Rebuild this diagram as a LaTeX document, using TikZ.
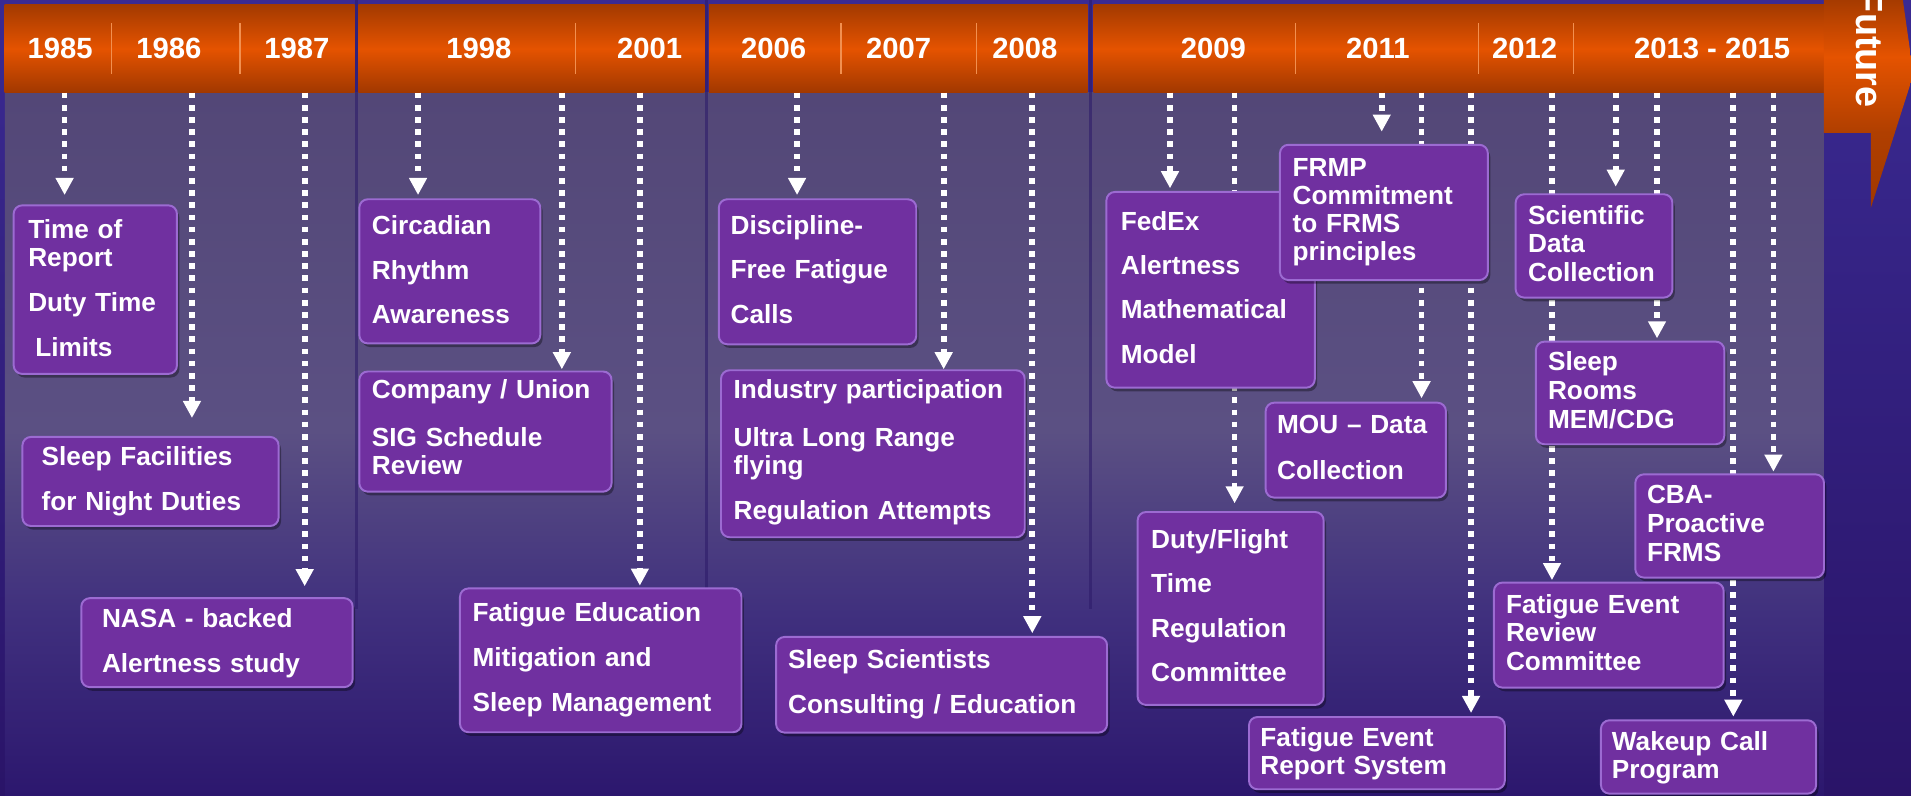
\documentclass[tikz,border=0pt]{standalone}
\usepackage{fontspec}
\setmainfont{Liberation Sans}
\usetikzlibrary{arrows.meta,shadows,calc}
\pgfdeclarelayer{bglayer}
\pgfdeclarelayer{connlayer}
\pgfsetlayers{bglayer,connlayer,main}
\definecolor{bgT}{HTML}{3A2A92}
\definecolor{bgB}{HTML}{2A1468}
\definecolor{orD}{HTML}{A33A00}
\definecolor{orB}{HTML}{E55300}
\definecolor{orD2}{HTML}{A13800}
\definecolor{sepC}{HTML}{F29050}
\definecolor{boxF}{HTML}{7030A0}
\definecolor{boxL}{HTML}{9C6BD2}
\definecolor{gapC}{HTML}{2E1C6A}
\definecolor{panA}{HTML}{534777}
\definecolor{panM}{HTML}{5B5083}
\definecolor{panC}{HTML}{40307E}
\definecolor{panD}{HTML}{2C176E}
\pgfdeclareverticalshading{futshade}{100bp}{color(0bp)=(orD2); color(25bp)=(orD2); color(43bp)=(orD!80!orB); color(61bp)=(orB); color(75bp)=(orD); color(100bp)=(orD)}
\pgfdeclareverticalshading{panelshade}{100bp}{color(0bp)=(panD); color(25bp)=(panD); color(38bp)=(panC); color(51bp)=(panM); color(75bp)=(panA); color(100bp)=(panA)}
\tikzset{
  panelbox/.style={draw=boxL, line width=1.6pt, fill=boxF, rounded corners=7pt,
    drop shadow={shadow xshift=2pt, shadow yshift=-3pt, opacity=0.35, fill=black}, inner sep=0pt},
  boxtext/.style={text=white, font=\bfseries\fontsize{21.5}{23}\selectfont, text width=260pt, align=left, inner sep=0pt},
  conn/.style={white, line width=4.7pt, dash pattern=on 4.7pt off 5.3pt, -{Triangle[width=14pt,length=14pt]}},
  yearlabel/.style={text=white, font=\bfseries\fontsize{24}{28}\selectfont, inner sep=0pt, anchor=base},
  sepline/.style={sepC, line width=1pt},
  bannerseg/.style={top color=orD, bottom color=orD2, middle color=orB},
}
\newcommand{\tlbox}[8]{%
  \node[panelbox, minimum width=#4pt, minimum height=#5pt, anchor=north west] (#1) at (#2,#3) {};
  \node[boxtext, anchor=base west] (#1t) at (#2+#6,#7) {#8};
}
\begin{document}
\begin{tikzpicture}[x=1pt,y=-1pt]
\useasboundingbox (0,0) rectangle (1568,653);
\clip (0,0) rectangle (1568,653);
\begin{pgfonlayer}{bglayer}
% background
\shade[top color=bgT, bottom color=bgB] (0,0) rectangle (1568,653);
\shade[shading=panelshade] (4,76) rectangle (1496.5,653);
\foreach \gx in {292.5,579.9,894.9} \draw[gapC, line width=2.5pt, opacity=0.6] (\gx,0) -- (\gx,500);
% banner
\foreach \a/\b in {3.7/291, 294/578, 581.7/892.3, 897.4/1496.5}
  \shade[bannerseg] (\a,4) rectangle (\b,76);
\foreach \sx in {91.6,197,472,690,801,1063,1213,1291}
  \draw[sepline] (\sx,19) -- (\sx,61);
\node[yearlabel] (y1985) at (49.4,48) {1985};
\node[yearlabel] (y1986) at (138.5,48) {1986};
\node[yearlabel] (y1987) at (243.6,48) {1987};
\node[yearlabel] (y1998) at (393,48) {1998};
\node[yearlabel] (y2001) at (533,48) {2001};
\node[yearlabel] (y2006) at (634.8,48) {2006};
\node[yearlabel] (y2007) at (737.3,48) {2007};
\node[yearlabel] (y2008) at (841,48) {2008};
\node[yearlabel] (y2009) at (995.6,48) {2009};
\node[yearlabel] (y2011) at (1130.6,48) {2011};
\node[yearlabel] (y2012) at (1251,48) {2012};
\node[yearlabel] (y2013) at (1404.8,48) {2013 - 2015};
% future arrow
\shade[shading=futshade] (1496.5,-2) -- (1561,-2) -- (1570,61) -- (1535,170.7) -- (1535,109) -- (1496.5,109) -- cycle;
\node[rotate=-90, anchor=base, text=white, inner sep=0pt, font=\bfseries\fontsize{31}{34}\selectfont] (fut) at (1523.4,40) {Future};
\end{pgfonlayer}
% connector starts on the banner
\foreach \n/\x in {k1/53, k2/157.5, k3/250, k4/343, k5/461, k6/525, k7/654, k8/774.3, k9/847, k10/960, k11/1013, k12/1133.7, k13/1166.4, k14/1207, k15/1273.4, k16/1325.7, k17/1359.6, k18/1422.2, k19/1455.1}
  \coordinate (\n) at (\x,76);
% boxes
\tlbox{A}{10.4}{167.7}{134}{138.3}{12.6}{195.5}{Time of\\Report\\[13.7pt]Duty Time\\[14pt]\hspace*{5.8pt}Limits}
\tlbox{B}{17.6}{357.7}{210.2}{73.1}{16.4}{382}{Sleep Facilities\\[13.5pt]for Night Duties}
\tlbox{C}{65.9}{490}{222.7}{73}{17.6}{515}{NASA - backed\\[14pt]Alertness study}
\tlbox{D}{294}{162.7}{148.5}{118.3}{11}{192.8}{Circadian\\[13.5pt]Rhythm\\[13.5pt]Awareness}
\tlbox{E}{294}{304}{207}{98.6}{11}{327}{Company / Union\\[16.5pt]SIG Schedule\\Review}
\tlbox{F}{376.6}{482}{231}{118}{11}{510}{Fatigue Education\\[14pt]Mitigation and\\[14pt]Sleep Management}
\tlbox{G}{589}{162.7}{162}{119}{10.3}{192.8}{Discipline-\\[13pt]Free Fatigue\\[14pt]Calls}
\tlbox{H}{590.8}{303}{249.2}{137}{11}{326.8}{Industry participation\\[16.7pt]Ultra Long Range\\flying\\[14pt]Regulation Attempts}
\tlbox{I}{636}{521.8}{271.6}{78.5}{10.5}{548.4}{Sleep Scientists\\[14pt]Consulting / Education}
\tlbox{X}{907}{156.7}{171}{160.6}{12.5}{189}{FedEx\\[13pt]Alertness\\[13pt]Mathematical\\[14.5pt]Model}
\tlbox{FR}{1049.4}{118}{170.6}{111}{11}{145}{FRMP\\Commitment\\to FRMS\\principles}
\tlbox{J}{932.6}{419.3}{152.7}{158.3}{11.8}{449.9}{Duty/Flight\\[13.5pt]Time\\[13.5pt]Regulation\\[13.5pt]Committee}
\tlbox{K}{1037.7}{329.6}{147.9}{77.9}{10}{356}{MOU -- Data\\[14.3pt]Collection}
\tlbox{L}{1024}{587.5}{209.9}{59.3}{10}{612.6}{Fatigue Event\\Report System}
\tlbox{M}{1242.8}{158.6}{128.6}{84.8}{10.9}{183.8}{Scientific\\[0.5pt]Data\\[0.5pt]Collection}
\tlbox{N}{1259.4}{279.5}{154.6}{84.2}{10.6}{303.6}{Sleep\\[1pt]Rooms\\[1pt]MEM/CDG}
\tlbox{O}{1341}{388.4}{154.8}{84.7}{10.2}{413}{CBA-\\[1pt]Proactive\\[1pt]FRMS}
\tlbox{P}{1225}{477.2}{188.5}{86.2}{10.5}{503.2}{Fatigue Event\\[0.5pt]Review\\[0.5pt]Committee}
\tlbox{Q}{1312.8}{590.2}{176.5}{60.2}{9.6}{615.4}{Wakeup Call\\Program}
% connectors, on a layer behind the boxes
\begin{pgfonlayer}{connlayer}
\foreach \k/\b/\s in {k1/A/7.7, k2/B/14.7, k3/C/9, k4/D/2.7, k5/E/1, k6/F/1.5, k7/G/2.7, k8/H/0, k9/I/2.2, k10/X/2.2, k11/J/6.3, k12/FR/10, k13/K/2.8, k14/L/2.5, k15/P/1.2, k16/M/5.4, k17/N/1.9, k18/Q/2.2, k19/O/1.4}
  \draw[conn, shorten >=\s pt] (\k) -- (\k |- \b.north);
\end{pgfonlayer}
\end{tikzpicture}
\end{document}
